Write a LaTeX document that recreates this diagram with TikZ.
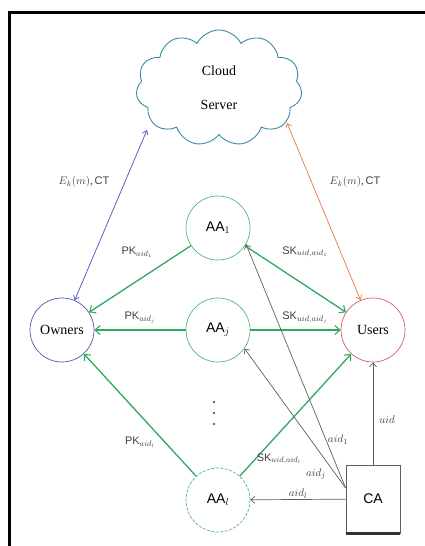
\documentclass[tikz,border=0pt]{standalone}
\usepackage{fontspec}
\setmainfont{Liberation Serif}
\setsansfont{Liberation Sans}
\usetikzlibrary{shapes.symbols,arrows.meta}
\definecolor{egreen}{RGB}{45,170,95}
\definecolor{cgreen}{RGB}{85,185,120}
\definecolor{ownc}{RGB}{85,85,170}
\definecolor{usrc}{RGB}{210,95,95}
\definecolor{cloudc}{RGB}{55,140,160}
\definecolor{bluel}{RGB}{70,80,190}
\definecolor{orangel}{RGB}{232,120,60}
\definecolor{grayl}{RGB}{95,95,95}
\tikzset{
  party/.style={circle, draw, line width=0.7pt, minimum size=64pt, inner sep=0pt, font=\fontsize{14}{16}\selectfont},
  aanode/.style={party, draw=cgreen},
  garrow/.style={draw=egreen, line width=1.3pt, -{Straight Barb[length=5pt,width=9pt,line width=1.1pt]}},
  karrow/.style={draw=grayl, line width=0.7pt, -{Straight Barb[length=4pt,width=7pt]}},
  lbl/.style={inner sep=1pt, font=\fontsize{11}{13}\selectfont, text=black!75},
  dotc/.style={circle, fill=black!80, inner sep=0pt, minimum size=2.2pt},
}
\begin{document}
\begin{tikzpicture}[x=1pt,y=-1pt]
\useasboundingbox (0,0) rectangle (425,546);
% frame
\draw[line width=3pt] (9.5,546) -- (9.5,12) -- (425,12);
% cloud
\node[cloud, cloud puffs=11, cloud puff arc=125, cloud ignores aspect, minimum width=166pt, minimum height=116pt, draw=cloudc, line width=0.9pt, align=center, font=\fontsize{14}{16}\selectfont] (cloud) at (219,88) {Cloud\\[18pt]Server};
% parties
\node[party, draw=ownc] (own) at (62,330) {Owners};
\node[party, draw=usrc] (usr) at (373,330) {Users};
\node[aanode] (aa1) at (218,228) {$\mathsf{AA}_1$};
\node[aanode] (aaj) at (218,330) {$\mathsf{AA}_j$};
\node[aanode, dash pattern=on 3pt off 1.5pt] (aal) at (218,500) {$\mathsf{AA}_l$};
\node[draw=grayl, line width=0.7pt, minimum width=54pt, minimum height=68pt, font=\sffamily\fontsize{14}{16}\selectfont] (ca) at (373,499) {CA};
\draw[line width=2.5pt, draw=black!80] (ca.south west) -- (ca.south east);
\node[dotc] (d1) at (214,402) {};
\node[dotc] (d2) at (214,413) {};
\node[dotc] (d3) at (214,424) {};
% cloud connectors
\coordinate (cbl) at (147,130);
\coordinate (cbr) at (287,123);
\draw[draw=bluel, line width=0.7pt, {Straight Barb[length=4pt,width=6pt]}-{Straight Barb[length=4pt,width=6pt]}] (own) -- (cbl);
\draw[draw=orangel, line width=0.7pt, {Straight Barb[length=4pt,width=6pt]}-{Straight Barb[length=4pt,width=6pt]}] (usr) -- (cbr);
\node[lbl] (l1) at (84,182) {$E_k(m)$,\,$\mathsf{CT}$};
\node[lbl] (l2) at (355,182) {$E_k(m)$,\,$\mathsf{CT}$};
% green
\draw[garrow] (aa1) -- (own);
\draw[garrow] (aa1) -- (usr);
\draw[garrow] (aaj) -- (own);
\draw[garrow] (aaj) -- (usr);
\draw[garrow] (aal) -- (own);
\draw[garrow] (aal) -- (usr);
\node[lbl] (pk1) at (137,252) {$\mathsf{PK}_{aid_1}$};
\node[lbl] (sk1) at (305,252) {$\mathsf{SK}_{uid,aid_1}$};
\node[lbl] (pkj) at (140,318) {$\mathsf{PK}_{aid_j}$};
\node[lbl] (skj) at (305,318) {$\mathsf{SK}_{uid,aid_j}$};
\node[lbl] (pkl) at (140,442) {$\mathsf{PK}_{aid_l}$};
\node[lbl] (skl) at (279,459) {$\mathsf{SK}_{uid,aid_l}$};
% gray
\coordinate (caw) at ([yshift=11pt]ca.west);
\draw[karrow] (ca) -- (aal);
\draw[karrow] (caw) -- (aaj.-35);
\draw[karrow] (caw) -- (aa1.-30);
\draw[karrow] (ca.north) -- (usr.south);
\node[lbl] (al) at (298,494) {$aid_l$};
\node[lbl] (aj) at (316,474) {$aid_j$};
\node[lbl] (a1) at (338,440) {$aid_1$};
\node[lbl] (ui) at (387,420) {$uid$};
\end{tikzpicture}
\end{document}
